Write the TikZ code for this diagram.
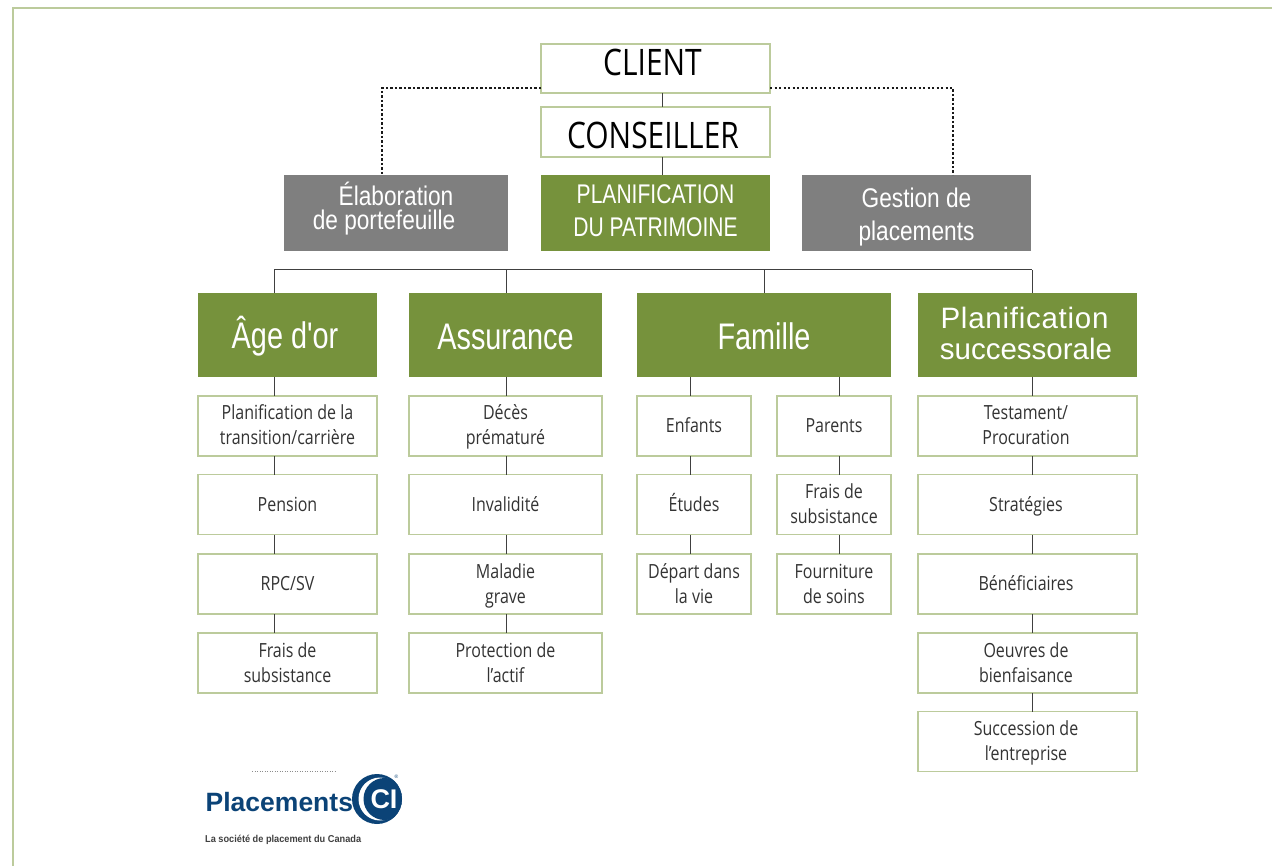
\documentclass[tikz,border=0pt]{standalone}
\usepackage{fontspec}
\setmainfont[FakeStretch=0.82]{Open Sans}
\newfontfamily\headfont[FakeStretch=0.84]{Liberation Sans}
\newfontfamily\narrowfont[FakeStretch=0.78]{Liberation Sans}
\newfontfamily\wideheadfont{Liberation Sans}
\newfontfamily\logofont{Liberation Sans}
\newfontfamily\tagfont[FakeStretch=0.92]{Liberation Sans}
\usetikzlibrary{
    calc,
    positioning
}
\definecolor{leaf}{HTML}{76923C}
\definecolor{pale}{HTML}{BCCB9C}
\definecolor{slate}{HTML}{7F7F7F}
\definecolor{cinavy}{HTML}{0B4377}
\newcommand{\up}[2]{\raisebox{#1}[\height][\depth]{#2}}
\newcommand{\fl}{\rule{0pt}{19pt}}
\tikzset{
    lightbox/.style={draw=pale, line width=1.4pt, fill=white, outer sep=0pt, inner sep=0pt, align=center},
    subbox/.style={lightbox, font=\fontsize{19.5}{25}\selectfont, text=black!80,
        execute at end node={\rule[-6pt]{0pt}{25pt}}},
    topbox/.style={lightbox, minimum width=229pt, font=\fontsize{36.5}{40}\selectfont, text=black},
    greybox/.style={fill=slate, outer sep=0pt, inner sep=0pt, minimum height=76pt, align=center, text=white,
        font=\headfont\fontsize{27}{32}\selectfont},
    headbox/.style={fill=leaf, outer sep=0pt, inner sep=0pt, minimum height=84pt, align=center, text=white,
        font=\narrowfont\fontsize{37}{40}\selectfont},
    link/.style={black!75, line width=1pt},
    dotlink/.style={black!90, line width=2.5pt, dash pattern=on 2.4pt off 2.1pt}
}

\begin{document}
\begin{tikzpicture}[x=1pt, y=-1pt]
    \useasboundingbox (0, 0) rectangle (1272, 866);
    \draw[pale, line width=2pt] (13, 866) -- (13, 8) -- (1272, 8);

    \node[topbox, minimum height=49pt] (client) at (655.5, 68.5) {\up{6pt}{\hspace*{-6pt}CLIENT}};
    \node[topbox, minimum height=50pt] (conseiller) at (655.5, 132) {\up{-3pt}{\hspace*{-5pt}CONSEILLER}};
    \node[greybox, minimum width=224pt] (elaboration) at (396, 213) {\up{4pt}{Élaboration}\\[-8pt]\up{4pt}{de portefeuille\hspace*{24pt}}};
    \node[greybox, minimum width=229pt, fill=leaf, font=\narrowfont\fontsize{27}{33}\selectfont] (planification) at (655.5, 213) {\up{2pt}{PLANIFICATION}\\\up{2pt}{DU PATRIMOINE}};
    \node[greybox, minimum width=229pt] (gestion) at (916.5, 213) {\up{-4pt}{Gestion de}\\[1pt]\up{-4pt}{placements}};

    \node[headbox, minimum width=179pt] (age) at (287.5, 335) {\up{-1pt}{Âge d'or\hspace*{5pt}}};
    \node[headbox, minimum width=193pt] (assurance) at (505.5, 335) {\up{-2pt}{Assurance}};
    \node[headbox, minimum width=254pt] (famille) at (764, 335) {\up{-1pt}{Famille}};
    \node[headbox, minimum width=219pt, font=\wideheadfont\fontsize{29.5}{31}\selectfont] (succession) at (1027.5, 335) {\up{2pt}{\addfontfeature{LetterSpace=2.5}Planification\hspace*{6pt}}\\\up{2pt}{successorale\hspace*{3pt}}};

    \node[subbox, minimum width=179pt, minimum height=60pt] (a1) at (287.5, 426) {\fl Planification de la\\transition/carrière};
    \node[subbox, minimum width=179pt, minimum height=60pt] (a2) at (287.5, 504.5) {Pension};
    \node[subbox, minimum width=179pt, minimum height=60pt] (a3) at (287.5, 584) {RPC/SV};
    \node[subbox, minimum width=179pt, minimum height=60pt] (a4) at (287.5, 663) {\fl Frais de\\subsistance};

    \node[subbox, minimum width=193pt, minimum height=60pt] (b1) at (505.5, 426) {\fl Décès\\prématuré};
    \node[subbox, minimum width=193pt, minimum height=60pt] (b2) at (505.5, 504.5) {Invalidité};
    \node[subbox, minimum width=193pt, minimum height=60pt] (b3) at (505.5, 584) {\fl Maladie\\grave};
    \node[subbox, minimum width=193pt, minimum height=60pt] (b4) at (505.5, 663) {\fl Protection de\\l’actif};

    \node[subbox, minimum width=114pt, minimum height=60pt] (c1) at (694, 426) {Enfants};
    \node[subbox, minimum width=114pt, minimum height=60pt] (c2) at (694, 504.5) {Études};
    \node[subbox, minimum width=114pt, minimum height=60pt] (c3) at (694, 584) {\fl Départ dans\\la vie};

    \node[subbox, minimum width=114pt, minimum height=60pt] (d1) at (834, 426) {Parents};
    \node[subbox, minimum width=114pt, minimum height=60pt] (d2) at (834, 504.5) {\fl Frais de\\subsistance};
    \node[subbox, minimum width=114pt, minimum height=60pt] (d3) at (834, 584) {\fl Fourniture\\de soins};

    \node[subbox, minimum width=219pt, minimum height=60pt] (e1) at (1027.5, 426) {\fl Testament/\hspace*{3pt}\\Procuration\hspace*{3pt}};
    \node[subbox, minimum width=219pt, minimum height=60pt] (e2) at (1027.5, 504.5) {Stratégies\hspace*{3pt}};
    \node[subbox, minimum width=219pt, minimum height=60pt] (e3) at (1027.5, 584) {Bénéficiaires\hspace*{3pt}};
    \node[subbox, minimum width=219pt, minimum height=60pt] (e4) at (1027.5, 663) {\fl Oeuvres de\hspace*{3pt}\\bienfaisance\hspace*{3pt}};
    \node[subbox, minimum width=219pt, minimum height=60pt] (e5) at (1027.5, 741.5) {\fl Succession de\hspace*{3pt}\\l’entreprise\hspace*{3pt}};

    % positions of the lines that do not leave from a box centre
    \coordinate (toplink) at (662, 100);
    \coordinate (dotleft) at (382, 88);
    \coordinate (dotright) at (953, 88);
    \coordinate (busa) at (274, 270);
    \coordinate (busb) at (506, 270);
    \coordinate (busc) at (764.5, 270);
    \coordinate (buse) at (1032, 270);
    \coordinate (linkc) at (690, 386);
    \coordinate (linkd) at (839, 386);

    \draw[link]
    (client.south -| toplink) edge (conseiller.north -| toplink)
    (conseiller.south -| toplink) edge (planification.north -| toplink)
    (busa) edge (buse)
    (busa) edge (age.north -| busa)
    (busb) edge (assurance.north -| busb)
    (busc) edge (famille.north -| busc)
    (buse) edge (succession.north -| buse)
    (age.south -| busa) edge (a1.north -| busa)
    (a1.south -| busa) edge (a2.north -| busa)
    (a2.south -| busa) edge (a3.north -| busa)
    (a3.south -| busa) edge (a4.north -| busa)
    (assurance.south -| busb) edge (b1.north -| busb)
    (b1.south -| busb) edge (b2.north -| busb)
    (b2.south -| busb) edge (b3.north -| busb)
    (b3.south -| busb) edge (b4.north -| busb)
    (famille.south -| linkc) edge (c1.north -| linkc)
    (c1.south -| linkc) edge (c2.north -| linkc)
    (c2.south -| linkc) edge (c3.north -| linkc)
    (famille.south -| linkd) edge (d1.north -| linkd)
    (d1.south -| linkd) edge (d2.north -| linkd)
    (d2.south -| linkd) edge (d3.north -| linkd)
    (succession.south -| buse) edge (e1.north -| buse)
    (e1.south -| buse) edge (e2.north -| buse)
    (e2.south -| buse) edge (e3.north -| buse)
    (e3.south -| buse) edge (e4.north -| buse)
    (e4.south -| buse) edge (e5.north -| buse);

    \draw[dotlink] (client.west |- dotleft) -- (dotleft) -- (elaboration.north -| dotleft);
    \draw[dotlink] (client.east |- dotright) -- (dotright) -- (gestion.north -| dotright);

    % logo
    \draw[black!45, line width=0.6pt, dash pattern=on 1pt off 1.5pt] (252, 771.5) -- (337, 771.5);
    \fill[cinavy] (377, 799) circle (25);
    \begin{scope}
        \clip (377, 799) circle (25);
        \fill[white] (380, 799) circle (21.5);
        \fill[cinavy] (384.5, 799) circle (21);
    \end{scope}
    \node[inner sep=0pt, text=white, font=\logofont\bfseries\fontsize{27}{27}\selectfont] (ci) at (384, 799.5) {CI};
    \node[inner sep=0pt, text=cinavy, font=\logofont\fontsize{5}{5}\selectfont] (reg) at (396.5, 777) {®};
    \node[inner sep=0pt, anchor=base west, text=cinavy, font=\logofont\bfseries\fontsize{26.5}{27}\selectfont] (placements) at (205.5, 811) {Placements};
    \node[inner sep=0pt, anchor=base west, text=black!75, font=\tagfont\bfseries\fontsize{10}{10}\selectfont] (tagline) at (205, 842) {La société de placement du Canada};
\end{tikzpicture}
\end{document}
